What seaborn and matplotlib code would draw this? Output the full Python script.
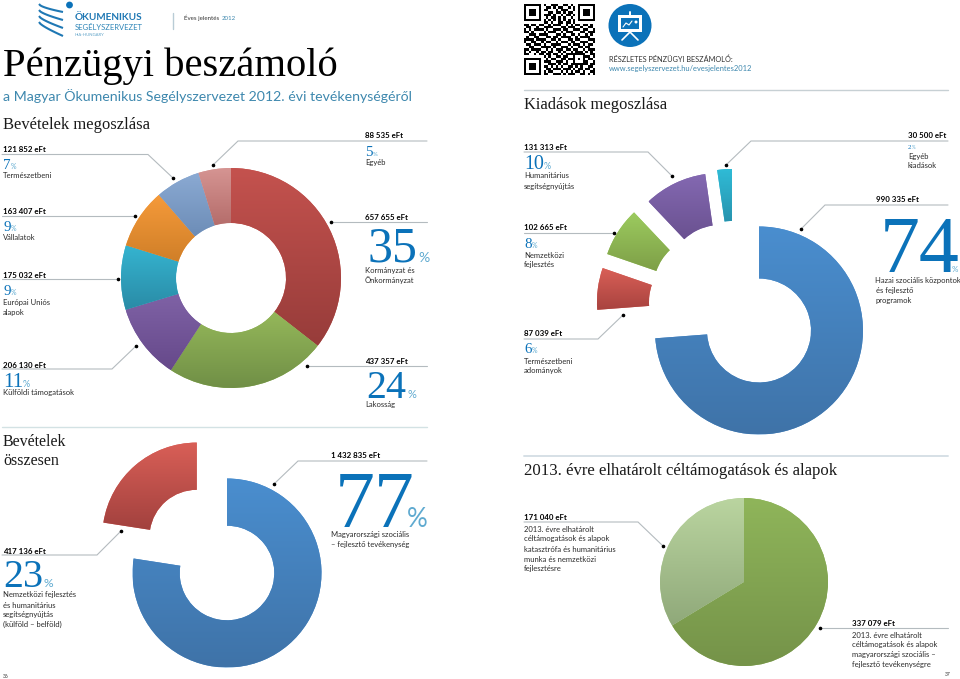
import matplotlib
matplotlib.use("Agg")
import matplotlib.pyplot as plt
from matplotlib.patches import Circle, Rectangle
import numpy as np
import seaborn as sns

sns.set_theme(style="white")
plt.rcParams['font.family'] = ['Lato', 'DejaVu Sans']

W, H = 960, 679
SANS = 'Lato'
SERIF = 'Liberation Serif'
BLUE_BIG = '#0B72B9'
BLUE_PCT = '#5FAAD0'
BLUE_SUB = '#3E88AE'
RULE = '#B4BBBF'
DARK = '#1A1A1A'

# income split
income_vals = [657655, 437357, 206130, 175032, 163407, 121852, 88535]
income_top = ['#C4524E', '#95B85A', '#7F62A6', '#35B4D0', '#F59A3A', '#8BAAD3', '#D69593']
income_bot = ['#973C3A', '#708F46', '#66498A', '#2A8BA6', '#D07F28', '#6D8DB7', '#B56D6B']

# income total
total_vals = [1432835, 417136]
total_top = ['#4A8ECF', '#D95F57']
total_bot = ['#3F73A8', '#A2413E']
total_shift = [(0, 0), (-0.32, 0.38)]

# expenses split
expense_vals = [990335, 87039, 102665, 131313, 30500]
expense_top = ['#4A8ECF', '#D95F57', '#9CCB5F', '#8469B2', '#2FBBD6']
expense_bot = ['#3F73A8', '#A8433F', '#7E9F47', '#6A5190', '#2893AE']
expense_shift = [(0, 0), (-0.558, 0.274), (-0.514, 0.409), (-0.375, 0.514), (-0.26, 0.553)]

# 2013 deferred grants
deferred_vals = [337079, 171040]
deferred_top = ['#8FB55A', '#BAD5A0']
deferred_bot = ['#759349', '#90A97A']

# small body labels: x, centre y, text, bold
labels = [
    (3, 150, '121 852 eFt', True), (3, 176, 'Természetbeni', False),
    (3, 211, '163 407 eFt', True), (3, 238, 'Vállalatok', False),
    (3, 275, '175 032 eFt', True), (3, 302, 'Európai Uniós', False), (3, 312, 'alapok', False),
    (3, 365, '206 130 eFt', True), (3, 393, 'Külföldi támogatások', False),
    (365, 136, '88 535 eFt', True), (365, 163, 'Egyéb', False),
    (365, 217, '657 655 eFt', True), (365, 270, 'Kormányzat és', False), (365, 280, 'Önkormányzat', False),
    (365, 361, '437 357 eFt', True), (365, 405, 'Lakosság', False),
    (331, 456, '1 432 835 eFt', True), (331, 535, 'Magyarországi szociális', False),
    (331, 545, '– fejlesztő tevékenység', False),
    (3, 551, '417 136 eFt', True), (3, 595, 'Nemzetközi fejlesztés', False),
    (3, 605, 'és humanitárius', False), (3, 614, 'segítségnyújtás', False), (3, 624, '(külföld – belföld)', False),
    (524, 147, '131 313 eFt', True), (524, 176, 'Humanitárius', False), (524, 186, 'segítségnyújtás', False),
    (524, 228, '102 665 eFt', True), (524, 255, 'Nemzetközi', False), (524, 265, 'fejlesztés', False),
    (524, 334, '87 039 eFt', True), (524, 361, 'Természetbeni', False), (524, 371, 'adományok', False),
    (908, 136, '30 500 eFt', True), (908, 156.5, 'Egyéb', False), (908, 166, 'kiadások', False),
    (875.5, 200, '990 335 eFt', True), (875, 280, 'Hazai szociális központok', False),
    (875.5, 290, 'és fejlesztő', False), (875.5, 300, 'programok', False),
    (524, 517, '171 040 eFt', True), (524, 529, '2013. évre elhatárolt', False),
    (524, 539, 'céltámogatások és alapok', False), (524, 549, 'katasztrófa és humanitárius', False),
    (524, 559, 'munka és nemzetközi', False), (524, 569, 'fejlesztésre', False),
    (852, 623, '337 079 eFt', True), (852, 635, '2013. évre elhatárolt', False),
    (852, 645, 'céltámogatások és alapok', False), (852, 655, 'magyarországi szociális –', False),
    (852, 665, 'fejlesztő tevékenységre', False),
]

# percent figures: x, baseline y, number, number px, percent x, percent px
percents = [
    (3, 169, '7', 15, 10.5, 7), (3, 231, '9', 15, 10.5, 7), (3, 295, '9', 15, 10.5, 7),
    (3, 387, '11', 21, 23, 9), (365, 156, '5', 15, 372.5, 6),
    (367, 262, '35', 50, 418, 14), (366, 398, '24', 40, 407, 11),
    (335, 527, '77', 80, 407, 26), (3, 587, '23', 40, 44, 12),
    (524, 169, '10', 20, 544, 9), (524, 248, '8', 15, 532, 7), (524, 353, '6', 15, 532, 7),
    (908, 149, '2', 7, 912, 4.5), (880, 272, '74', 80, 952, 8),
]

# leader lines: path points ending on the dot
leaders = [
    [(2, 154.5), (148, 154.5), (173, 178)], [(427, 141), (238, 141), (213, 165)],
    [(2, 216), (135, 216)], [(427, 222), (331, 222)], [(2, 279), (118, 279)],
    [(2, 369), (112, 369), (136, 346)], [(427, 366), (307, 366)],
    [(427, 461), (298, 461), (274, 484)], [(2, 555), (97, 555), (121, 531)],
    [(524, 152), (648, 152), (672, 176)], [(948, 141), (751, 141), (726, 165)],
    [(948, 205), (825, 205), (801, 229)], [(524, 233), (614, 233)],
    [(524, 339), (598, 339), (623, 315)], [(524, 522), (638, 522), (663, 546)],
    [(948, 628), (820, 628)],
]

qr_rows = [
    "11111110100111001101001111111",
    "10000010011010110010101000001",
    "10111010110001011100101011101",
    "10111010001101101011001011101",
    "10111010111010010110101011101",
    "10000010010110101001001000001",
    "11111110101010101010101111111",
    "00000000110100110110100000000",
    "11011011001011100101011011010",
    "01100100111100011011100100110",
    "10101111010011101100111011001",
    "11010000101110010111000110111",
    "00111011110001101001101001010",
    "01001100011011011110010111100",
    "11110111100110100011011000111",
    "10011001011001011101100111001",
    "01101110100111100010111010110",
    "00110001111010011101001101100",
    "11011110010101110110110010111",
    "10100101101100101001011101010",
    "11001011011011010111111110011",
    "00000000101001101100100011101",
    "11111110010110011011101010110",
    "10000010111001110100100011001",
    "10111010001110101101111111011",
    "10111010110101010011010100110",
    "10111010011011101110101101101",
    "10000010101100010101011010011",
    "11111110110011101011100110101",
]


def px_axes(fig, cx, cy, r, span=1.8):
    # axes whose data unit is one pie radius, centred on a pixel position
    side = r * span
    ax = fig.add_axes([(cx - side) / W, 1 - (cy + side) / H, 2 * side / W, 2 * side / H])
    return ax, span


def donut(fig, cx, cy, r, vals, tops, bots, shift=None, hole=True):
    ax, span = px_axes(fig, cx, cy, r)
    wedgeprops = dict(linewidth=0)
    if hole:
        wedgeprops['width'] = 0.5
    wedges, _ = ax.pie(vals, startangle=90, counterclock=False, radius=1, colors=tops,
                       wedgeprops=wedgeprops)
    grad = np.linspace(0, 1, 128).reshape(-1, 1)
    for i, w in enumerate(wedges):
        if shift is not None:
            w.set_center(shift[i])
        box = w.get_path().get_extents()
        cmap = sns.blend_palette([tops[i], bots[i]], as_cmap=True)
        im = ax.imshow(grad, cmap=cmap, extent=[box.x0, box.x1, box.y0, box.y1], origin='upper',
                       aspect='auto', zorder=2, interpolation='bilinear')
        im.set_clip_path(w)
    ax.set_xlim(-span, span)
    ax.set_ylim(-span, span)
    ax.set_aspect('equal')
    ax.axis('off')
    ax.patch.set_alpha(0)
    return ax


fig = plt.figure(figsize=(W / 100, H / 100), dpi=100)

donut(fig, 231, 278, 110, income_vals, income_top, income_bot)
donut(fig, 227, 573, 94.5, total_vals, total_top, total_bot, shift=total_shift)
donut(fig, 759, 330.5, 104, expense_vals, expense_top, expense_bot, shift=expense_shift)
donut(fig, 744, 582, 84, deferred_vals, deferred_top, deferred_bot, hole=False)

# page overlay in pixel coordinates
page = fig.add_axes([0, 0, 1, 1], zorder=5)
page.set_xlim(0, W)
page.set_ylim(H, 0)
page.axis('off')
page.patch.set_alpha(0)


def txt(x, y, s, px, color=DARK, family=SANS, weight='normal', va='center', ha='left'):
    page.text(x, y, s, fontsize=px * 0.72, color=color, family=family, weight=weight, va=va, ha=ha)


for x, y, s, bold in labels:
    txt(x, y, s, 7.9 if bold else 7.6, color='black' if bold else '#2B2B2B', weight='bold' if bold else 'normal')

for x, y, num, size, px_x, px_size in percents:
    txt(x, y, num, size, color=BLUE_BIG, family=SERIF, va='baseline')
    txt(px_x, y, '%', px_size, color=BLUE_PCT, va='baseline')

for path in leaders:
    xs, ys = zip(*path)
    page.plot(xs, ys, color=RULE, lw=0.8, solid_joinstyle='miter')
    page.plot(xs[-1], ys[-1], 'o', color='black', ms=1.6)

# section rules
page.plot([2, 427], [427, 427], color='#D3E2E4', lw=1)
page.plot([524, 948], [90, 90], color='#C7D0D4', lw=1)
page.plot([524, 948], [456, 456], color='#D6E0E6', lw=1.4)

# headings
txt(3, 76, 'Pénzügyi beszámoló', 40.6, color='black', family=SERIF, va='baseline')
txt(3, 96, 'a Magyar Ökumenikus Segélyszervezet 2012. évi tevékenységéről', 14.1, color=BLUE_SUB)
txt(3, 125, 'Bevételek megoszlása', 16.5, family=SERIF)
txt(3, 442, 'Bevételek', 16, family=SERIF)
txt(3, 461, 'összesen', 16, family=SERIF)
txt(524, 105, 'Kiadások megoszlása', 16.5, family=SERIF)
txt(524, 471, '2013. évre elhatárolt céltámogatások és alapok', 16.8, family=SERIF)

# report header and link
txt(184, 18, 'Éves jelentés', 6.2, color='#333333')
txt(222, 18, '2012', 6.2, color=BLUE_SUB)
page.plot([173, 173], [13, 29], color='#B9CCD6', lw=1)
txt(609, 59, 'RÉSZLETES PÉNZÜGYI BESZÁMOLÓ:', 7.4, color='#333333')
txt(609, 69, 'www.segelyszervezet.hu/evesjelentes2012', 7.5, color=BLUE_SUB)
txt(3, 676, '36', 5, color='#333333')
txt(945, 675, '37', 5, color='#333333')

# organisation logo
txt(75, 17, 'ÖKUMENIKUS', 10, color='#1F78B4', weight='bold')
txt(75, 27, 'SEGÉLYSZERVEZET', 7.7, color='#2F86B8')
txt(75, 34.5, 'HIA-HUNGARY', 4.2, color='#5FA3C8')
page.add_patch(Circle((69.5, 5), 3.4, color='#0B72B9', lw=0))
for dy in range(4):
    t = np.linspace(0, 1, 20)
    page.plot(39 + 24 * t, 4 + 6 * dy + 8 * t ** 0.6 + 2 * t * dy, color='#1F78B4', lw=1.5,
              solid_capstyle='butt')

# QR code
qr = np.array([[int(c) for c in row] for row in qr_rows])
page.imshow(qr, cmap='gray_r', extent=[524, 595, 75, 4], aspect='auto', interpolation='nearest', zorder=1)
page.set_xlim(0, W)
page.set_ylim(H, 0)

# presentation icon
page.add_patch(Circle((630, 25.5), 21.5, color='#0B72B9', lw=0))
page.add_patch(Rectangle((618, 15), 24, 17, facecolor='white', lw=0))
page.add_patch(Rectangle((621, 18), 18, 11, facecolor='#0B72B9', lw=0))
page.plot([630, 630], [12, 15], color='white', lw=1.4)
page.plot([622, 630, 638], [40, 32, 40], color='white', lw=1.2)
page.plot([623, 626, 629, 632], [27, 23, 25, 21], color='white', lw=0.8)
page.add_patch(Circle((636, 22), 1.5, color='white', lw=0))

fig.savefig('out.png', dpi=100)
